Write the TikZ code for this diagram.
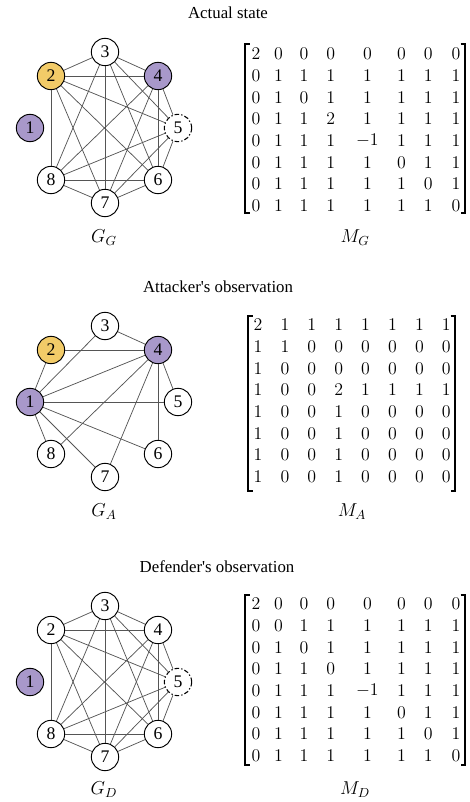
\RequirePackage{fix-cm}
\documentclass[tikz,border=0pt]{standalone}
\usepackage[no-math]{fontspec}
\setmainfont{Liberation Serif}[Ligatures=TeXOff]

\definecolor{nodepurple}{RGB}{168,152,202}
\definecolor{nodegold}{RGB}{242,203,104}
\definecolor{edgegray}{RGB}{85,85,85}

\tikzset{
  vertex/.style={circle, draw=black, line width=0.7pt, fill=white,
    minimum size=20.5pt, inner sep=0pt, font=\fontsize{13.3}{15}\selectfont},
  hidden/.style={line width=0.8pt, dash pattern=on 3.4pt off 1.6pt on 1pt off 1.6pt},
  attacked/.style={fill=nodepurple},
  entry/.style={fill=nodegold},
  link/.style={draw=edgegray, line width=0.55pt},
  title/.style={font=\fontsize{12.6}{15}\selectfont},
  caption/.style={font=\fontsize{14}{17}\selectfont},
  cell/.style={inner sep=0pt, font=\fontsize{13.4}{15}\selectfont},
  bracket/.style={line width=0.8pt},
}

% #1 name prefix, #2 y of first row, #3 column x positions, #4 rows
\newcommand\matgrid[4]{%
  \foreach \rowvals [count=\i] in {#4} {
    \foreach \v [count=\j] in \rowvals {
      \pgfmathsetmacro\cx{{#3}[\j-1]}
      \pgfmathsetmacro\cy{#2+(\i-1)*21.65}
      \node[cell] (#1-\i-\j) at (\cx,\cy) {$\v$};
    }
  }%
}
% #1 left x, #2 right x, #3 top y, #4 bottom y
\newcommand\matbrackets[4]{%
  \draw[bracket] (#1+4.5,#3) -- (#1,#3) -- (#1,#4) -- (#1+4.5,#4);
  \draw[bracket] (#2-4.5,#3) -- (#2,#3) -- (#2,#4) -- (#2-4.5,#4);
}

\begin{document}
\begin{tikzpicture}[x=0.75pt, y=-0.75pt]
\useasboundingbox (0,0) rectangle (470,802);

% ---------- actual state ----------
\node[title] (t1) at (228,13) {Actual state};
\begin{scope}[shift={(0,128)}]
  \node[vertex,attacked] (g1) at (30,0) {1};
  \node[vertex,entry]    (g2) at (51,-52) {2};
  \node[vertex]          (g3) at (105,-76) {3};
  \node[vertex,attacked] (g4) at (158,-52) {4};
  \node[vertex,hidden]   (g5) at (178,0) {5};
  \node[vertex]          (g6) at (158,52) {6};
  \node[vertex]          (g7) at (105,75) {7};
  \node[vertex]          (g8) at (51,52) {8};
  \foreach \a in {2,...,7} {
    \pgfmathtruncatemacro\s{\a+1}
    \foreach \b in {\s,...,8} \draw[link] (g\a) -- (g\b);
  }
  \node[caption] (gg) at (104,110) {$G_G$};
\end{scope}
\matgrid{mg}{54}{256,278.6,304,330.8,367.4,401.6,428.2,456}{
  {2,0,0,0,0,0,0,0},{0,1,1,1,1,1,1,1},{0,1,0,1,1,1,1,1},{0,1,1,2,1,1,1,1},
  {0,1,1,1,-1,1,1,1},{0,1,1,1,1,0,1,1},{0,1,1,1,1,1,0,1},{0,1,1,1,1,1,1,0}}
\matbrackets{245}{465}{44}{213}
\node[caption] (mgl) at (355,238) {$M_G$};

% ---------- attacker's observation ----------
\node[title] (t2) at (218,287) {Attacker's observation};
\begin{scope}[shift={(0,402)}]
  \node[vertex,attacked] (a1) at (30,0) {1};
  \node[vertex,entry]    (a2) at (51,-52) {2};
  \node[vertex]          (a3) at (105,-76) {3};
  \node[vertex,attacked] (a4) at (158,-52) {4};
  \node[vertex]          (a5) at (178,0) {5};
  \node[vertex]          (a6) at (158,52) {6};
  \node[vertex]          (a7) at (105,75) {7};
  \node[vertex]          (a8) at (51,52) {8};
  \foreach \b in {2,...,8} \draw[link] (a1) -- (a\b);
  \foreach \b in {2,3,5,6,7,8} \draw[link] (a4) -- (a\b);
  \node[caption] (ga) at (104,110) {$G_A$};
\end{scope}
\matgrid{ma}{325}{258,284.9,311.8,338.7,365.6,392.5,419.4,446.3}{
  {2,1,1,1,1,1,1,1},{1,1,0,0,0,0,0,0},{1,0,0,0,0,0,0,0},{1,0,0,2,1,1,1,1},
  {1,0,0,1,0,0,0,0},{1,0,0,1,0,0,0,0},{1,0,0,1,0,0,0,0},{1,0,0,1,0,0,0,0}}
\matbrackets{248}{455}{316}{491}
\node[caption] (mal) at (352,512) {$M_A$};

% ---------- defender's observation ----------
\node[title] (t3) at (217,567) {Defender's observation};
\begin{scope}[shift={(0,682)}]
  \node[vertex,attacked] (d1) at (30,0) {1};
  \node[vertex]          (d2) at (51,-52) {2};
  \node[vertex]          (d3) at (105,-76) {3};
  \node[vertex]          (d4) at (158,-52) {4};
  \node[vertex,hidden]   (d5) at (178,0) {5};
  \node[vertex]          (d6) at (158,52) {6};
  \node[vertex]          (d7) at (105,75) {7};
  \node[vertex]          (d8) at (51,52) {8};
  \foreach \a in {2,...,7} {
    \pgfmathtruncatemacro\s{\a+1}
    \foreach \b in {\s,...,8} \draw[link] (d\a) -- (d\b);
  }
  \node[caption] (gd) at (104,108) {$G_D$};
\end{scope}
\matgrid{md}{604}{256,278.6,304,330.8,367.4,401.6,428.2,456}{
  {2,0,0,0,0,0,0,0},{0,0,1,1,1,1,1,1},{0,1,0,1,1,1,1,1},{0,1,1,0,1,1,1,1},
  {0,1,1,1,-1,1,1,1},{0,1,1,1,1,0,1,1},{0,1,1,1,1,1,0,1},{0,1,1,1,1,1,1,0}}
\matbrackets{245}{465}{595}{765}
\node[caption] (mdl) at (355,790) {$M_D$};
\end{tikzpicture}
\end{document}
